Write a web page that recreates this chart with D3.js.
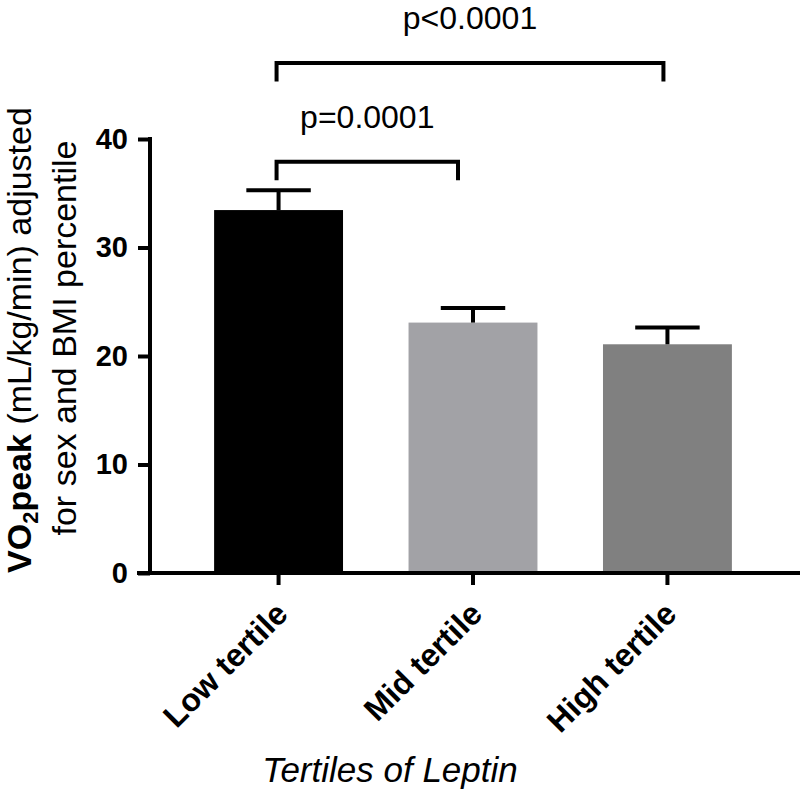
<!DOCTYPE html>
<html>
<head>
<meta charset="utf-8">
<script src="https://cdn.jsdelivr.net/npm/d3@7"></script>
<style>
  html, body { margin: 0; padding: 0; background: #ffffff; }
  svg { display: block; }
  text { font-family: "Liberation Sans", Arial, Helvetica, sans-serif; fill: #000; }
</style>
</head>
<body>
<svg id="chart" width="800" height="791"></svg>
<script>
// ---- data ----
const categories = ["Low tertile", "Mid tertile", "High tertile"];
const means      = [33.45, 23.08, 21.08];
const errors     = [1.82, 1.35, 1.55];
const barColors  = ["#000000", "#a2a2a6", "#808080"];
const yTicks     = [0, 10, 20, 30, 40];
const brackets = [
  { from: "Low tertile", to: "High tertile", level: 47.0, label: "p<0.0001" },
  { from: "Low tertile", to: "Mid tertile",  level: 37.9, label: "p=0.0001" }
];
const xTitle = "Tertiles of Leptin";

// ---- layout ----
const svg = d3.select("#chart");
const axisX = 150, axisY = 573, topY = 139;
const x = d3.scaleBand().domain(categories).range([148, 798]).paddingInner(0.337).paddingOuter(0.34);
const y = d3.scaleLinear().domain([0, 40]).range([axisY, topY]);
const bracketRightInset = [4, 15];
const bracketLeg = 1.7; // data units

// bars
svg.append("g").selectAll("rect").data(categories).join("rect")
  .attr("x", d => x(d))
  .attr("y", (d, i) => y(means[i]))
  .attr("width", x.bandwidth())
  .attr("height", (d, i) => y(0) - y(means[i]))
  .attr("fill", (d, i) => barColors[i]);

// error bars (upper only)
const eb = svg.append("g").attr("stroke", "#000").attr("stroke-width", 4);
categories.forEach((c, i) => {
  const cx = x(c) + x.bandwidth() / 2;
  eb.append("line").attr("x1", cx).attr("x2", cx)
    .attr("y1", y(means[i])).attr("y2", y(means[i] + errors[i]));
  eb.append("line").attr("x1", cx - x.bandwidth() / 4).attr("x2", cx + x.bandwidth() / 4)
    .attr("y1", y(means[i] + errors[i])).attr("y2", y(means[i] + errors[i]));
});

// y axis
const yAxis = d3.axisLeft(y).tickValues(yTicks).tickSize(12).tickPadding(10).tickSizeOuter(0);
const gy = svg.append("g").attr("transform", `translate(${axisX},0)`).call(yAxis);
gy.select(".domain").attr("stroke", "#000").attr("stroke-width", 4)
  .attr("d", `M0,${topY - 2}V${axisY}`);
gy.selectAll(".tick line").attr("stroke", "#000").attr("stroke-width", 4);
gy.selectAll(".tick text")
  .attr("font-size", 29).attr("font-weight", "bold")
  .attr("font-family", "'Liberation Sans', Arial, sans-serif").attr("fill", "#000");

// x axis
const xAxis = d3.axisBottom(x).tickSize(12).tickSizeOuter(0).tickFormat("");
const gx = svg.append("g").attr("transform", `translate(0,${axisY})`).call(xAxis);
gx.select(".domain").attr("stroke", "#000").attr("stroke-width", 4)
  .attr("d", `M${axisX - 13},0H800`);
gx.selectAll(".tick line").attr("stroke", "#000").attr("stroke-width", 4);

// x tick labels, rotated
svg.append("g").selectAll("text").data(categories).join("text")
  .attr("transform", d => `translate(${x(d) + x.bandwidth() / 2 + 11},${axisY + 43}) rotate(-45)`)
  .attr("text-anchor", "end")
  .attr("font-size", 32).attr("font-weight", "bold")
  .text(d => d);

// x title
svg.append("text")
  .attr("x", 390).attr("y", 782)
  .attr("text-anchor", "middle")
  .attr("font-size", 35).attr("font-style", "italic")
  .text(xTitle);

// y title
const yt = svg.append("text")
  .attr("transform", "translate(31,340) rotate(-90)")
  .attr("text-anchor", "middle")
  .attr("font-size", 34);
yt.append("tspan").attr("font-weight", "bold").text("VO");
yt.append("tspan").attr("font-weight", "bold").attr("font-size", 22).attr("dy", 7).text("2");
yt.append("tspan").attr("font-weight", "bold").attr("dy", -7).text("peak");
yt.append("tspan").text(" (mL/kg/min) adjusted");
svg.append("text")
  .attr("transform", "translate(76,338) rotate(-90)")
  .attr("text-anchor", "middle")
  .attr("font-size", 34)
  .text("for sex and BMI percentile");

// significance brackets
const bg = svg.append("g");
brackets.forEach((b, i) => {
  const x1 = x(b.from) + x.bandwidth() / 2 - 2;
  const x2 = x(b.to) + x.bandwidth() / 2 - bracketRightInset[i];
  const yl = y(b.level), yb = y(b.level - bracketLeg);
  bg.append("path")
    .attr("d", `M${x1},${yb}V${yl}H${x2}V${yb}`)
    .attr("fill", "none").attr("stroke", "#000").attr("stroke-width", 4);
  bg.append("text")
    .attr("x", (x1 + x2) / 2).attr("y", yl - 34)
    .attr("text-anchor", "middle")
    .attr("font-size", 32)
    .text(b.label);
});
</script>
</body>
</html>
